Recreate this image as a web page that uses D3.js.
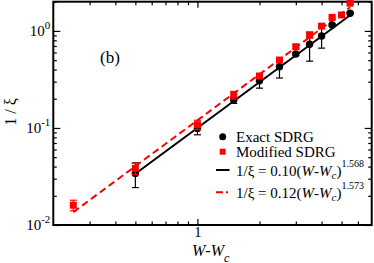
<!DOCTYPE html>
<html>
<head>
<meta charset="utf-8">
<script src="https://cdn.jsdelivr.net/npm/d3@7"></script>
<style>
  body { margin: 0; background: #fff; }
  text { font-family: "Liberation Serif", "Times New Roman", serif; fill: #000; }
</style>
</head>
<body>
<div class="canvas"></div>
<script>
// data
const exactW = [0.5, 1, 1.5, 2, 2.5, 3, 3.5, 4, 4.5, 5.5];
const exactInv = [0.034, 0.099, 0.194, 0.307, 0.427, 0.578, 0.728, 0.885, 1.15, 1.52];
const exactErr = [0.0097, 0.014, 0.015, 0.05, 0.10, 0.02, 0.24, 0.22, 0.03, 0.03];

const modW = [0.25, 0.5, 1, 1.5, 2, 2.5, 3, 3.5, 4, 4.5, 5, 5.5];
const modInv = [0.016, 0.0383, 0.108, 0.218, 0.343, 0.501, 0.687, 0.907, 1.12, 1.38, 1.46, 1.93];
const modErr = [0.002, 0.005, 0.012, 0.02, 0.02, 0.02, 0.03, 0.06, 0.04, 0.04, 0.04, 0.05];

// fits: 1/xi = a (W-Wc)^b, drawn over the data range
const fitA = [0.10, 0.12];
const fitB = [1.568, 1.573];
const fitFrom = [0.5, 0.25];
const fitTo = [5.5, 5.5];

const xMajor = [1];
const xMinor = [0.3, 0.4, 0.5, 0.6, 0.7, 0.8, 0.9, 2, 3, 4, 5, 6];
const yMajor = [0.01, 0.1, 1];
const yMinor = d3.range(2, 10).flatMap(k => [k * 0.01, k * 0.1]).concat([2]);

const dims = { width: 374, height: 263 };
const plot = { left: 53.3, right: 371.7, top: 1.7, bottom: 225 };

const svg = d3.select('.canvas')
  .append('svg')
  .attr('width', dims.width)
  .attr('height', dims.height)
  .attr('font-family', 'Liberation Serif, Times New Roman, serif');

const x = d3.scaleLog().domain([0.2, 7]).range([plot.left, plot.right]);
const y = d3.scaleLog().domain([0.01, 2]).range([plot.bottom, plot.top]);

// axes, ticks pointing inward on all four sides
const styleAxis = g => {
  g.attr('font-family', null);
  g.select('.domain').remove();
  g.selectAll('line').attr('stroke', '#000').attr('stroke-width', 1.2);
};

svg.append('g')
  .attr('transform', `translate(0, ${plot.bottom})`)
  .call(d3.axisBottom(x).tickValues(xMajor).tickSizeInner(-6).tickSizeOuter(0).tickPadding(2)
    .tickFormat(d3.format('d')))
  .call(styleAxis)
  .selectAll('text').attr('font-size', 14.5);

svg.append('g')
  .attr('transform', `translate(0, ${plot.bottom})`)
  .call(d3.axisBottom(x).tickValues(xMinor).tickSizeInner(-3.5).tickSizeOuter(0).tickFormat(''))
  .call(styleAxis);

svg.append('g')
  .attr('transform', `translate(0, ${plot.top})`)
  .call(d3.axisTop(x).tickValues(xMajor).tickSizeInner(-6).tickSizeOuter(0).tickFormat(''))
  .call(styleAxis);

svg.append('g')
  .attr('transform', `translate(0, ${plot.top})`)
  .call(d3.axisTop(x).tickValues(xMinor).tickSizeInner(-3.5).tickSizeOuter(0).tickFormat(''))
  .call(styleAxis);

const yLeft = svg.append('g')
  .attr('transform', `translate(${plot.left}, 0)`)
  .call(d3.axisLeft(y).tickValues(yMajor).tickSizeInner(-7).tickSizeOuter(0).tickPadding(3))
  .call(styleAxis);

yLeft.selectAll('text')
  .attr('font-size', 15)
  .each(function(d) {
    const t = d3.select(this);
    t.text('');
    t.append('tspan').text('10');
    t.append('tspan').attr('dy', -7).attr('font-size', 11)
      .text(Math.round(Math.log10(d)));
  });

svg.append('g')
  .attr('transform', `translate(${plot.left}, 0)`)
  .call(d3.axisLeft(y).tickValues(yMinor).tickSizeInner(-3.5).tickSizeOuter(0).tickFormat(''))
  .call(styleAxis);

svg.append('g')
  .attr('transform', `translate(${plot.right}, 0)`)
  .call(d3.axisRight(y).tickValues(yMajor).tickSizeInner(-7).tickSizeOuter(0).tickFormat(''))
  .call(styleAxis);

svg.append('g')
  .attr('transform', `translate(${plot.right}, 0)`)
  .call(d3.axisRight(y).tickValues(yMinor).tickSizeInner(-3.5).tickSizeOuter(0).tickFormat(''))
  .call(styleAxis);

// frame
svg.append('rect')
  .attr('x', plot.left)
  .attr('y', plot.top)
  .attr('width', plot.right - plot.left)
  .attr('height', plot.bottom - plot.top)
  .attr('fill', 'none')
  .attr('stroke', '#000')
  .attr('stroke-width', 2);

// fit lines
const line = d3.line().x(d => x(d[0])).y(d => y(d[1]));
const fitPts = i => [fitFrom[i], fitTo[i]].map(w => [w, fitA[i] * Math.pow(w, fitB[i])]);

svg.append('path')
  .datum(fitPts(1))
  .attr('d', line)
  .attr('fill', 'none')
  .attr('stroke', '#ff0000')
  .attr('stroke-width', 2)
  .attr('stroke-dasharray', '7,4');

svg.append('path')
  .datum(fitPts(0))
  .attr('d', line)
  .attr('fill', 'none')
  .attr('stroke', '#000')
  .attr('stroke-width', 2);

// error bars helper
const drawErr = (ws, vs, es, color) => {
  const g = svg.append('g').attr('stroke', color).attr('stroke-width', 1.2);
  ws.forEach((w, i) => {
    const lo = y(vs[i] - es[i]), hi = y(vs[i] + es[i]), cx = x(w);
    g.append('line').attr('x1', cx).attr('x2', cx).attr('y1', lo).attr('y2', hi);
    g.append('line').attr('x1', cx - 3.5).attr('x2', cx + 3.5).attr('y1', lo).attr('y2', lo);
    g.append('line').attr('x1', cx - 3.5).attr('x2', cx + 3.5).attr('y1', hi).attr('y2', hi);
  });
};

// exact SDRG
drawErr(exactW, exactInv, exactErr, '#000');
svg.append('g').selectAll('circle')
  .data(exactW)
  .enter().append('circle')
    .attr('cx', d => x(d))
    .attr('cy', (d, i) => y(exactInv[i]))
    .attr('r', 3.7)
    .attr('fill', '#000');

// modified SDRG
drawErr(modW, modInv, modErr, '#ff0000');
svg.append('g').selectAll('rect')
  .data(modW)
  .enter().append('rect')
    .attr('x', d => x(d) - 3.5)
    .attr('y', (d, i) => y(modInv[i]) - 3.5)
    .attr('width', 7)
    .attr('height', 7)
    .attr('fill', '#ff0000');

// panel label
svg.append('text')
  .attr('x', 100)
  .attr('y', 63)
  .attr('font-size', 17)
  .text('(b)');

// axis titles
svg.append('text')
  .attr('transform', 'translate(16, 112) rotate(-90)')
  .attr('text-anchor', 'middle')
  .attr('font-size', 16)
  .text('1 / ξ');

const xt = svg.append('text')
  .attr('x', 192)
  .attr('y', 255.5)
  .attr('font-size', 16);
xt.append('tspan').attr('font-style', 'italic').text('W');
xt.append('tspan').text('-');
xt.append('tspan').attr('font-style', 'italic').text('W');
xt.append('tspan').attr('font-style', 'italic').attr('font-size', 12).attr('dy', 6).text('c');

// legend
const legend = svg.append('g');
legend.append('circle').attr('cx', 222.7).attr('cy', 136.7).attr('r', 3.5).attr('fill', '#000');
legend.append('rect').attr('x', 219.7).attr('y', 148.7).attr('width', 6).attr('height', 6).attr('fill', '#ff0000');
legend.append('line').attr('x1', 216).attr('x2', 229.5).attr('y1', 170).attr('y2', 170)
  .attr('stroke', '#000').attr('stroke-width', 2);
legend.append('line').attr('x1', 216).attr('x2', 229.5).attr('y1', 192.3).attr('y2', 192.3)
  .attr('stroke', '#ff0000').attr('stroke-width', 2).attr('stroke-dasharray', '7,3,2,3');

legend.append('text').attr('x', 236).attr('y', 141.7).attr('font-size', 15).text('Exact SDRG');
legend.append('text').attr('x', 236).attr('y', 156.5).attr('font-size', 15).text('Modified SDRG');

const fitLabel = (i, yy) => {
  const t = legend.append('text').attr('x', 236).attr('y', yy).attr('font-size', 15);
  t.append('tspan').text(`1/ξ = ${fitA[i].toFixed(2)}(`);
  t.append('tspan').attr('font-style', 'italic').text('W');
  t.append('tspan').text('-');
  t.append('tspan').attr('font-style', 'italic').text('W');
  t.append('tspan').attr('font-style', 'italic').attr('font-size', 11).attr('dy', 3).text('c');
  t.append('tspan').attr('dy', -3).text(')');
  t.append('tspan').attr('font-size', 10).attr('dy', -9).text(fitB[i].toFixed(3));
};
fitLabel(0, 175.7);
fitLabel(1, 198);
</script>
</body>
</html>
